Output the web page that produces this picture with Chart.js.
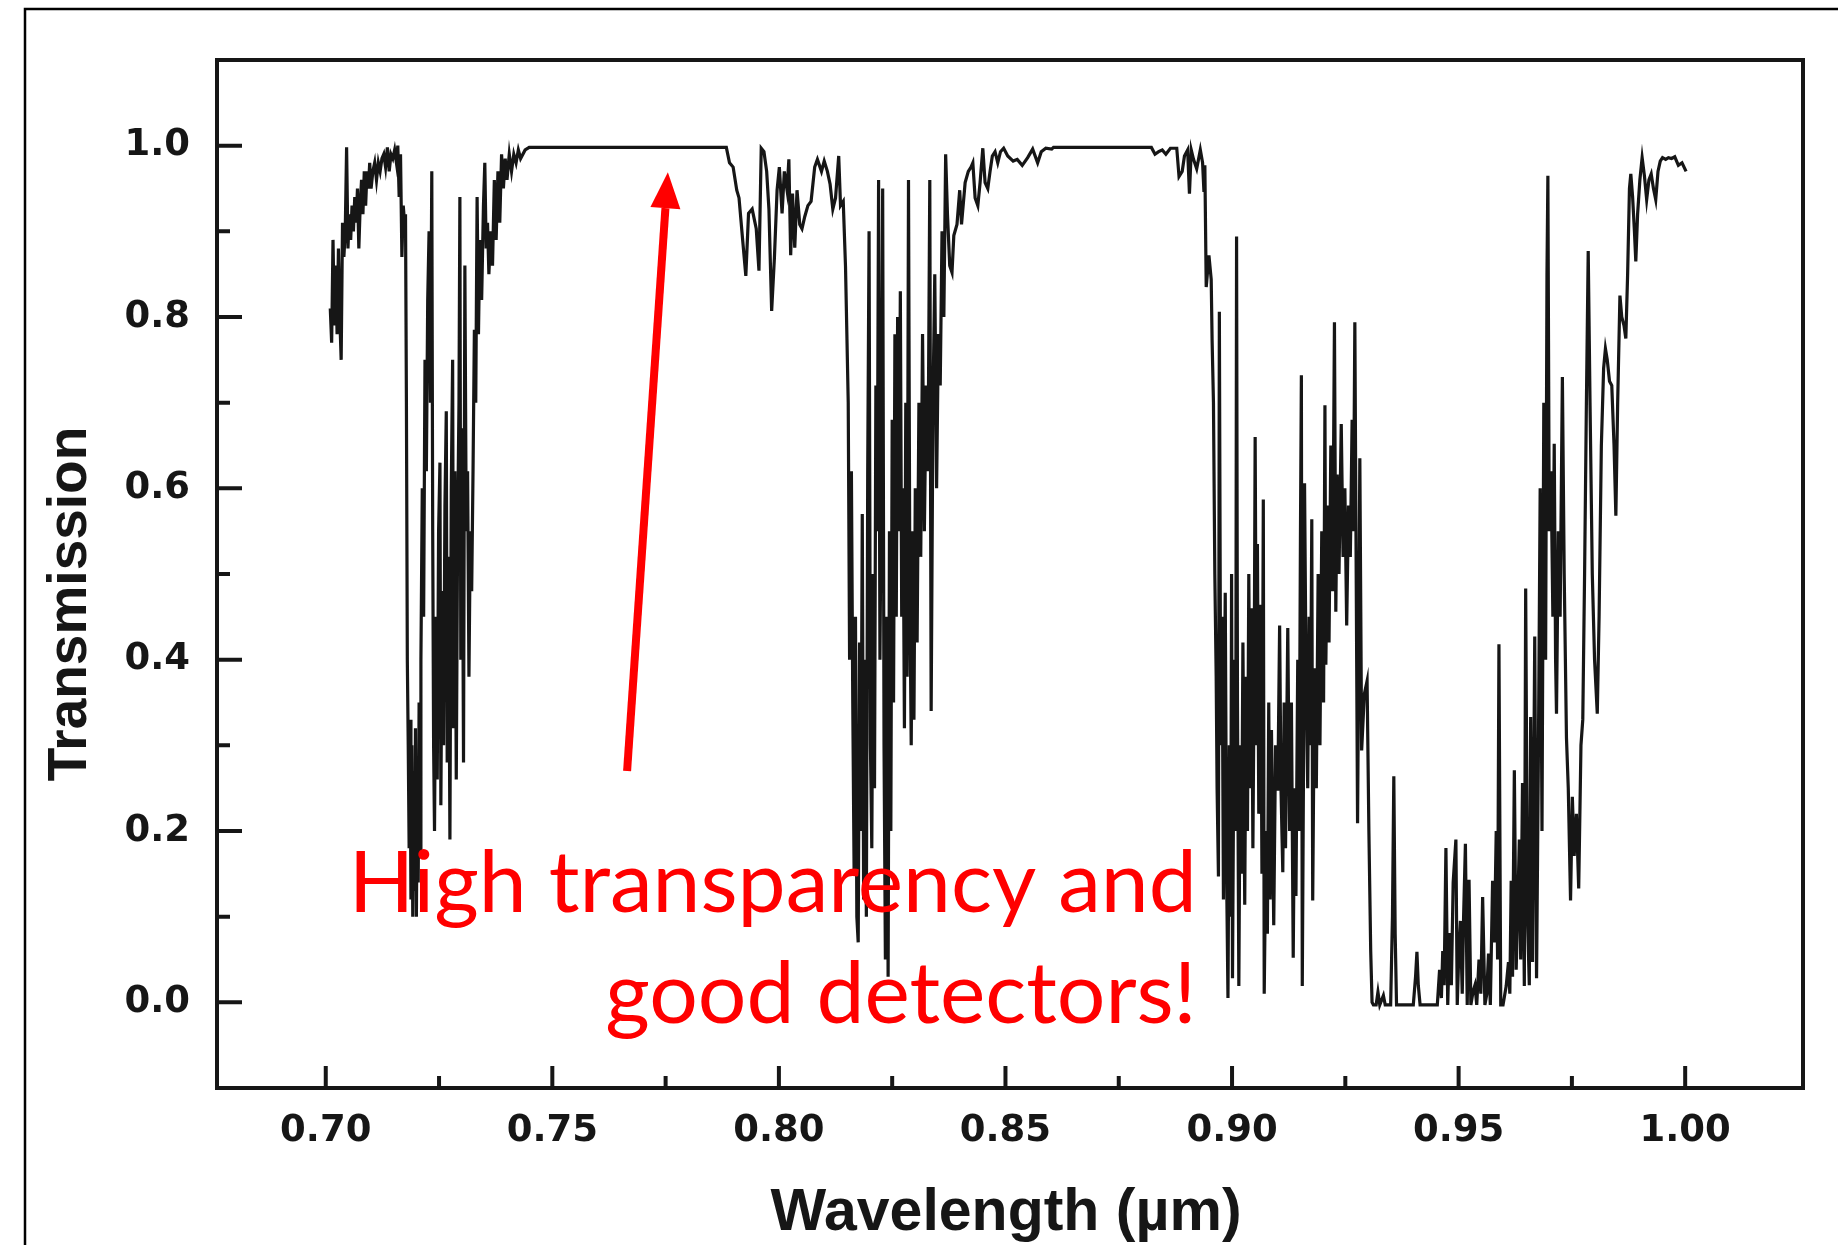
<!DOCTYPE html>
<html>
<head>
<meta charset="utf-8">
<title>Transmission vs wavelength</title>
<script src="https://cdn.jsdelivr.net/npm/chart.js@4.4.0/dist/chart.umd.min.js"></script>
<style>
  html, body { margin: 0; padding: 0; background: #fff; }
  canvas { display: block; }
</style>
</head>
<body>
<canvas id="chart" width="1838" height="1245"></canvas>
<script>
// axis ticks and labels
const xMajorTicks = [0.70, 0.75, 0.80, 0.85, 0.90, 0.95, 1.00];
const xTickLabels = ['0.70', '0.75', '0.80', '0.85', '0.90', '0.95', '1.00'];
const xMinorTicks = [0.725, 0.775, 0.825, 0.875, 0.925, 0.975];
const yMajorTicks = [0.0, 0.2, 0.4, 0.6, 0.8, 1.0];
const yTickLabels = ['0.0', '0.2', '0.4', '0.6', '0.8', '1.0'];
const yMinorTicks = [0.1, 0.3, 0.5, 0.7, 0.9];

// spectrum: [wavelength (um), transmission]
const edge700 = [
  [0.7010, 0.81], [0.7013, 0.77], [0.7016, 0.89], [0.7019, 0.79], [0.7022, 0.86], [0.7025, 0.78],
  [0.7028, 0.88], [0.7031, 0.80], [0.7034, 0.75], [0.7037, 0.91], [0.7040, 0.87], [0.7043, 0.90],
  [0.7046, 0.998], [0.7049, 0.88], [0.7052, 0.92], [0.7055, 0.89], [0.7058, 0.93], [0.7061, 0.90],
  [0.7064, 0.94], [0.7067, 0.91], [0.7070, 0.95], [0.7073, 0.88], [0.7076, 0.93], [0.7079, 0.96],
  [0.7082, 0.92], [0.7085, 0.97], [0.7088, 0.93], [0.7091, 0.97], [0.7094, 0.95], [0.7097, 0.98],
  [0.7100, 0.95], [0.7104, 0.97], [0.7108, 0.98], [0.7112, 0.96], [0.7116, 0.98], [0.7120, 0.97],
  [0.7124, 0.985], [0.7128, 0.99], [0.7132, 0.975], [0.7136, 0.998], [0.7140, 0.97], [0.7144, 0.99],
  [0.7148, 0.985], [0.7152, 0.995], [0.7156, 0.98], [0.7159, 1.0], [0.7162, 0.94], [0.7165, 0.99],
  [0.7168, 0.87], [0.7171, 0.93], [0.7174, 0.91]
];
const band720 = [
  [0.7176, 0.92], [0.7178, 0.70], [0.7180, 0.40], [0.7182, 0.30], [0.7184, 0.18], [0.7186, 0.33],
  [0.7188, 0.12], [0.7190, 0.30], [0.7192, 0.10], [0.7194, 0.27], [0.7196, 0.13], [0.7198, 0.32],
  [0.7200, 0.10], [0.7202, 0.25], [0.7204, 0.14], [0.7206, 0.35], [0.7208, 0.17], [0.7210, 0.40],
  [0.7213, 0.60], [0.7216, 0.45], [0.7219, 0.75], [0.7222, 0.62], [0.7225, 0.82], [0.7228, 0.90],
  [0.7231, 0.70], [0.7234, 0.97], [0.7236, 0.55], [0.7238, 0.30], [0.7240, 0.20], [0.7243, 0.45],
  [0.7246, 0.26], [0.7249, 0.55], [0.7252, 0.63], [0.7254, 0.23], [0.7257, 0.48], [0.7260, 0.30],
  [0.7263, 0.58], [0.7266, 0.69], [0.7268, 0.28], [0.7271, 0.52], [0.7274, 0.19], [0.7277, 0.60],
  [0.7280, 0.75], [0.7282, 0.32], [0.7285, 0.62], [0.7288, 0.26], [0.7291, 0.55], [0.7294, 0.70],
  [0.7296, 0.94], [0.7298, 0.40], [0.7301, 0.67], [0.7304, 0.28], [0.7307, 0.86], [0.7310, 0.55],
  [0.7313, 0.62], [0.7316, 0.38], [0.7319, 0.55], [0.7322, 0.48], [0.7325, 0.62], [0.7328, 0.785],
  [0.7331, 0.70], [0.7334, 0.94], [0.7337, 0.78], [0.7340, 0.89], [0.7344, 0.82], [0.7348, 0.93],
  [0.7351, 0.98], [0.7354, 0.88], [0.7357, 0.91], [0.7360, 0.85], [0.7364, 0.90], [0.7368, 0.86],
  [0.7372, 0.96], [0.7376, 0.89], [0.7380, 0.97], [0.7384, 0.91], [0.7388, 0.99], [0.7392, 0.95],
  [0.7396, 0.985], [0.7400, 0.96], [0.7405, 0.99], [0.7410, 0.97], [0.7415, 0.99], [0.7420, 0.98],
  [0.7425, 0.995], [0.7430, 0.985], [0.7440, 0.995], [0.7449, 0.998], [0.7884, 0.998]
];
const band790 = [
  [0.7891, 0.98], [0.7899, 0.975], [0.7907, 0.948], [0.7912, 0.939], [0.7920, 0.89], [0.7927, 0.848],
  [0.7933, 0.921], [0.7941, 0.926], [0.7950, 0.903], [0.7956, 0.854], [0.7961, 0.997], [0.7967, 0.993],
  [0.7973, 0.97], [0.7978, 0.926], [0.7984, 0.807], [0.7990, 0.868], [0.7996, 0.948], [0.8001, 0.975],
  [0.8007, 0.921], [0.8012, 0.97], [0.8018, 0.948], [0.8022, 0.984], [0.8026, 0.872], [0.8030, 0.944],
  [0.8035, 0.881], [0.8040, 0.948], [0.8046, 0.908], [0.8051, 0.903], [0.8057, 0.917], [0.8064, 0.93],
  [0.8071, 0.935], [0.8079, 0.975], [0.8085, 0.984], [0.8094, 0.97], [0.8100, 0.982], [0.8107, 0.97],
  [0.8113, 0.955], [0.8119, 0.926], [0.8125, 0.939], [0.8132, 0.988], [0.8136, 0.93], [0.8142, 0.935],
  [0.8147, 0.859]
];
const band820 = [
  [0.8150, 0.78], [0.8153, 0.70], [0.8156, 0.40], [0.8160, 0.62], [0.8163, 0.35], [0.8166, 0.15],
  [0.8169, 0.45], [0.8172, 0.10], [0.8175, 0.07], [0.8178, 0.42], [0.8181, 0.20], [0.8184, 0.57],
  [0.8187, 0.12], [0.8190, 0.40], [0.8193, 0.10], [0.8196, 0.62], [0.8199, 0.90], [0.8202, 0.30],
  [0.8205, 0.18], [0.8208, 0.50], [0.8211, 0.25], [0.8214, 0.72], [0.8217, 0.55], [0.8220, 0.96],
  [0.8223, 0.40], [0.8226, 0.62], [0.8229, 0.95], [0.8232, 0.30], [0.8235, 0.05], [0.8238, 0.45],
  [0.8241, 0.03], [0.8244, 0.55], [0.8247, 0.20], [0.8250, 0.68], [0.8253, 0.35], [0.8256, 0.78],
  [0.8259, 0.45], [0.8262, 0.80], [0.8265, 0.55], [0.8268, 0.83], [0.8271, 0.45], [0.8274, 0.60],
  [0.8277, 0.32], [0.8280, 0.70], [0.8283, 0.38], [0.8286, 0.96], [0.8289, 0.48], [0.8292, 0.30],
  [0.8295, 0.55], [0.8298, 0.33], [0.8301, 0.60], [0.8305, 0.42], [0.8309, 0.70], [0.8313, 0.52],
  [0.8317, 0.78], [0.8321, 0.55], [0.8325, 0.72], [0.8329, 0.62], [0.8333, 0.96], [0.8336, 0.34],
  [0.8340, 0.70], [0.8344, 0.85], [0.8348, 0.60], [0.8352, 0.78], [0.8356, 0.72], [0.8360, 0.90],
  [0.8364, 0.80], [0.8368, 0.99]
];
const wing840 = [
  [0.8372, 0.92], [0.8377, 0.86], [0.8382, 0.852], [0.8386, 0.895], [0.8393, 0.908], [0.8399, 0.948],
  [0.8403, 0.908], [0.8411, 0.957], [0.8418, 0.97], [0.8424, 0.975], [0.8428, 0.98], [0.8433, 0.939],
  [0.8439, 0.93], [0.8444, 0.957], [0.8450, 0.997], [0.8455, 0.957], [0.8461, 0.95], [0.8466, 0.97],
  [0.8471, 0.988], [0.8477, 0.993], [0.8483, 0.98], [0.8489, 0.993], [0.8496, 0.997], [0.8505, 0.988],
  [0.8517, 0.982], [0.8526, 0.984], [0.8537, 0.977], [0.8549, 0.986], [0.8560, 0.996], [0.8571, 0.98],
  [0.8579, 0.993], [0.8589, 0.997], [0.8602, 0.996], [0.8606, 0.998], [0.8822, 0.998]
];
const band895 = [
  [0.8830, 0.99], [0.8838, 0.993], [0.8846, 0.995], [0.8854, 0.99], [0.8864, 0.997], [0.8878, 0.997],
  [0.8883, 0.964], [0.8890, 0.97], [0.8895, 0.988], [0.8902, 0.995], [0.8906, 0.944], [0.8910, 0.995],
  [0.8915, 0.984], [0.8922, 0.973], [0.8930, 0.995], [0.8935, 0.98], [0.8938, 0.946], [0.8940, 0.977],
  [0.8943, 0.835], [0.8949, 0.872], [0.8954, 0.844], [0.8956, 0.773], [0.8959, 0.70], [0.8962, 0.50]
];
const band910 = [
  [0.8965, 0.38], [0.8967, 0.25], [0.8970, 0.147], [0.8972, 0.806], [0.8975, 0.30], [0.8978, 0.45],
  [0.8981, 0.12], [0.8983, 0.35], [0.8985, 0.478], [0.8988, 0.15], [0.8991, 0.005], [0.8994, 0.30],
  [0.8997, 0.10], [0.8999, 0.50], [0.9001, 0.028], [0.9005, 0.40], [0.9008, 0.20], [0.9010, 0.894],
  [0.9012, 0.35], [0.9015, 0.019], [0.9018, 0.30], [0.9021, 0.15], [0.9024, 0.42], [0.9028, 0.114],
  [0.9031, 0.38], [0.9034, 0.20], [0.9037, 0.50], [0.9040, 0.25], [0.9043, 0.46], [0.9046, 0.18],
  [0.9049, 0.40], [0.9051, 0.66], [0.9054, 0.30], [0.9056, 0.535], [0.9059, 0.22], [0.9061, 0.40],
  [0.9063, 0.464], [0.9066, 0.15], [0.9069, 0.587], [0.9071, 0.01], [0.9075, 0.20], [0.9078, 0.08],
  [0.9081, 0.35], [0.9084, 0.12], [0.9087, 0.318], [0.9092, 0.09], [0.9096, 0.30], [0.9101, 0.247],
  [0.9105, 0.44], [0.9108, 0.25], [0.9112, 0.152], [0.9115, 0.35], [0.9118, 0.18], [0.9123, 0.437],
  [0.9127, 0.20], [0.9131, 0.35], [0.9135, 0.052], [0.9138, 0.25], [0.9141, 0.124], [0.9145, 0.40],
  [0.9148, 0.20], [0.9151, 0.55], [0.9153, 0.732], [0.9155, 0.019], [0.9158, 0.30], [0.9160, 0.606],
  [0.9163, 0.404], [0.9167, 0.25], [0.9170, 0.45], [0.9173, 0.30], [0.9176, 0.564], [0.9178, 0.119],
  [0.9182, 0.39], [0.9186, 0.25], [0.9190, 0.50], [0.9194, 0.30], [0.9198, 0.55], [0.9202, 0.35],
  [0.9205, 0.697], [0.9207, 0.394], [0.9211, 0.58], [0.9214, 0.42], [0.9218, 0.65], [0.9222, 0.48],
  [0.9226, 0.794], [0.9229, 0.456], [0.9232, 0.616], [0.9236, 0.50], [0.9241, 0.675], [0.9245, 0.52],
  [0.9249, 0.60], [0.9253, 0.44], [0.9257, 0.58], [0.9261, 0.52], [0.9265, 0.68], [0.9268, 0.55],
  [0.9271, 0.794], [0.9274, 0.50], [0.9277, 0.209], [0.9280, 0.45], [0.9282, 0.635], [0.9286, 0.294],
  [0.9292, 0.36], [0.9298, 0.375], [0.9302, 0.20], [0.9306, 0.06], [0.9309, 0.0]
];
const floor935 = [
  [0.9312, -0.003], [0.9318, -0.003], [0.9322, 0.012], [0.9326, -0.003], [0.9334, 0.008], [0.9338, -0.003],
  [0.9350, -0.003], [0.9354, 0.10], [0.9357, 0.264], [0.9360, 0.08], [0.9363, -0.003], [0.9400, -0.003],
  [0.9405, 0.03], [0.9408, 0.059], [0.9411, 0.02], [0.9415, -0.003], [0.9453, -0.003], [0.9458, 0.038],
  [0.9462, 0.005], [0.9465, 0.06], [0.9468, 0.02], [0.9472, 0.18], [0.9476, -0.003], [0.9480, 0.081],
  [0.9484, 0.02], [0.9488, 0.14], [0.9494, 0.19], [0.9497, -0.003], [0.9500, 0.05], [0.9504, 0.095],
  [0.9508, 0.01], [0.9511, 0.10], [0.9515, 0.185], [0.9519, -0.003], [0.9523, 0.143], [0.9527, -0.003],
  [0.9532, 0.013], [0.9536, 0.02], [0.9540, -0.003], [0.9545, 0.05], [0.9549, 0.01], [0.9553, 0.123],
  [0.9558, -0.003], [0.9562, 0.009], [0.9566, 0.057], [0.9570, -0.003], [0.9575, 0.142], [0.9579, 0.07],
  [0.9583, 0.20], [0.9586, 0.05], [0.9589, 0.418], [0.9593, -0.003], [0.9598, -0.003], [0.9605, 0.019],
  [0.9610, 0.047], [0.9613, 0.01], [0.9616, 0.142], [0.9619, 0.03], [0.9623, 0.271], [0.9627, 0.038],
  [0.9631, 0.12], [0.9634, 0.19], [0.9637, 0.05], [0.9641, 0.256], [0.9645, 0.019], [0.9648, 0.483],
  [0.9652, 0.10], [0.9656, 0.02], [0.9659, 0.333], [0.9663, 0.047], [0.9668, 0.427], [0.9672, 0.028],
  [0.9676, 0.285]
];
const band970 = [
  [0.9680, 0.60], [0.9684, 0.20], [0.9688, 0.70], [0.9692, 0.40], [0.9695, 0.85], [0.9697, 0.965],
  [0.9700, 0.55], [0.9704, 0.62], [0.9708, 0.45], [0.9711, 0.652], [0.9714, 0.40], [0.9716, 0.337],
  [0.9720, 0.55], [0.9724, 0.45], [0.9729, 0.73], [0.9733, 0.50], [0.9738, 0.309], [0.9742, 0.25],
  [0.9747, 0.119], [0.9751, 0.24], [0.9755, 0.171], [0.9760, 0.22], [0.9765, 0.133], [0.9770, 0.30],
  [0.9774, 0.33], [0.9778, 0.50], [0.9782, 0.70], [0.9786, 0.877], [0.9790, 0.70], [0.9795, 0.50],
  [0.9800, 0.40], [0.9806, 0.337], [0.9810, 0.45], [0.9815, 0.65], [0.9820, 0.74], [0.9824, 0.763],
  [0.9828, 0.75], [0.9833, 0.725], [0.9838, 0.72], [0.9843, 0.65], [0.9847, 0.568], [0.9851, 0.70],
  [0.9856, 0.825], [0.9860, 0.80], [0.9865, 0.79], [0.9869, 0.775], [0.9873, 0.85], [0.9877, 0.95],
  [0.9880, 0.967], [0.9884, 0.94], [0.9888, 0.90], [0.9891, 0.865], [0.9895, 0.92], [0.9900, 0.96],
  [0.9905, 0.986], [0.9910, 0.965], [0.9915, 0.937], [0.9920, 0.96], [0.9925, 0.967], [0.9930, 0.95],
  [0.9935, 0.937], [0.9940, 0.97], [0.9945, 0.982], [0.9950, 0.986], [0.9957, 0.984], [0.9963, 0.986],
  [0.9970, 0.985], [0.9977, 0.987], [0.9985, 0.977], [0.9993, 0.98], [1.0002, 0.97]
];

// red note, placed in data units
const noteLines = ['High transparency and', 'good detectors!'];
const noteLeft = 0.7051;
const noteRight = 0.8922;
const noteBaselines = [0.1055, -0.024];
const arrowTail = [0.7665, 0.270];
const arrowTip = [0.7755, 0.969];

const INK = '#161616';
const RED = '#ff0000';
const TITLE_FONT = '"Liberation Sans", Arial, Helvetica, sans-serif';
const TICK_FONT = '"DejaVu Sans", Verdana, sans-serif';

const spectrum = [edge700, band720, band790, band820, wing840, band895, band910, floor935, band970]
  .flat()
  .map(([x, y]) => ({ x, y }));

function tickLabel(majors, labels) {
  return (value) => {
    const i = majors.findIndex(t => Math.abs(t - value) < 1e-6);
    return i >= 0 ? labels[i] : '';
  };
}

function setTicks(majors, minors) {
  return (scale) => {
    scale.ticks = majors.concat(minors).sort((a, b) => a - b).map(v => ({ value: v }));
  };
}

const decor = {
  id: 'decor',
  beforeDraw(chart) {
    const { ctx, width, height } = chart;
    ctx.save();
    ctx.fillStyle = '#fff';
    ctx.fillRect(0, 0, width, height);
    // frame of the slide picture
    ctx.strokeStyle = '#000';
    ctx.lineWidth = 2.5;
    ctx.beginPath();
    ctx.moveTo(25, height);
    ctx.lineTo(25, 9);
    ctx.lineTo(width, 9);
    ctx.stroke();
    ctx.restore();
  },
  afterDatasetsDraw(chart) {
    const { ctx, chartArea: a, scales: { x, y } } = chart;
    ctx.save();
    ctx.strokeStyle = INK;
    ctx.lineWidth = 4;
    ctx.strokeRect(a.left, a.top, a.right - a.left, a.bottom - a.top);

    // inward ticks
    ctx.beginPath();
    xMajorTicks.forEach(v => { const px = x.getPixelForValue(v); ctx.moveTo(px, a.bottom); ctx.lineTo(px, a.bottom - 22); });
    xMinorTicks.forEach(v => { const px = x.getPixelForValue(v); ctx.moveTo(px, a.bottom); ctx.lineTo(px, a.bottom - 12); });
    yMajorTicks.forEach(v => { const py = y.getPixelForValue(v); ctx.moveTo(a.left, py); ctx.lineTo(a.left + 25, py); });
    yMinorTicks.forEach(v => { const py = y.getPixelForValue(v); ctx.moveTo(a.left, py); ctx.lineTo(a.left + 13, py); });
    ctx.stroke();

    // axis titles
    ctx.fillStyle = INK;
    ctx.font = 'bold 55px ' + TITLE_FONT;
    ctx.textAlign = 'center';
    ctx.textBaseline = 'alphabetic';
    ctx.save();
    ctx.translate(86, 604);
    ctx.rotate(-Math.PI / 2);
    ctx.fillText('Transmission', 0, 0);
    ctx.restore();
    ctx.font = 'bold 59px ' + TITLE_FONT;
    ctx.fillText('Wavelength (\u00b5m)', 1006, 1230);

    // red arrow
    const tx = x.getPixelForValue(arrowTail[0]), ty = y.getPixelForValue(arrowTail[1]);
    const hx = x.getPixelForValue(arrowTip[0]), hy = y.getPixelForValue(arrowTip[1]);
    const ang = Math.atan2(hy - ty, hx - tx);
    const headLen = 36, headHalf = 15;
    const bx = hx - headLen * Math.cos(ang), by = hy - headLen * Math.sin(ang);
    ctx.strokeStyle = RED;
    ctx.fillStyle = RED;
    ctx.lineWidth = 8;
    ctx.lineCap = 'butt';
    ctx.beginPath();
    ctx.moveTo(tx, ty);
    ctx.lineTo(bx, by);
    ctx.stroke();
    ctx.beginPath();
    ctx.moveTo(hx, hy);
    ctx.lineTo(bx + headHalf * Math.sin(ang), by - headHalf * Math.cos(ang));
    ctx.lineTo(bx - headHalf * Math.sin(ang), by + headHalf * Math.cos(ang));
    ctx.closePath();
    ctx.fill();

    // red note, sized to span its box
    const left = x.getPixelForValue(noteLeft), right = x.getPixelForValue(noteRight);
    ctx.font = '100px Lato, "Noto Sans", sans-serif';
    const size = 100 * (right - left) / ctx.measureText(noteLines[0]).width;
    ctx.font = size.toFixed(1) + 'px Lato, "Noto Sans", sans-serif';
    ctx.textAlign = 'right';
    ctx.textBaseline = 'alphabetic';
    noteLines.forEach((line, i) => ctx.fillText(line, right, y.getPixelForValue(noteBaselines[i])));
    ctx.restore();
  }
};

new Chart(document.getElementById('chart'), {
  type: 'scatter',
  data: {
    datasets: [{
      label: 'Transmission',
      data: spectrum,
      showLine: true,
      borderColor: INK,
      backgroundColor: INK,
      borderWidth: 3.2,
      pointRadius: 0,
      tension: 0
    }]
  },
  options: {
    responsive: false,
    animation: false,
    devicePixelRatio: 1,
    events: [],
    layout: { padding: { left: 0, top: 60, right: 35, bottom: 0 } },
    plugins: { legend: { display: false }, tooltip: { enabled: false } },
    scales: {
      x: {
        type: 'linear',
        min: 0.676,
        max: 1.026,
        afterBuildTicks: setTicks(xMajorTicks, xMinorTicks),
        afterFit: (scale) => { scale.height = 157; },
        grid: { display: false, drawTicks: false },
        border: { display: false },
        ticks: {
          autoSkip: false,
          maxRotation: 0,
          padding: 21,
          color: INK,
          font: { family: TICK_FONT, size: 37, weight: 'bold' },
          callback: tickLabel(xMajorTicks, xTickLabels)
        }
      },
      y: {
        type: 'linear',
        min: -0.1,
        max: 1.1,
        afterBuildTicks: setTicks(yMajorTicks, yMinorTicks),
        afterFit: (scale) => { scale.width = 217; },
        grid: { display: false, drawTicks: false },
        border: { display: false },
        ticks: {
          autoSkip: false,
          padding: 27,
          color: INK,
          font: { family: TICK_FONT, size: 37, weight: 'bold' },
          callback: tickLabel(yMajorTicks, yTickLabels)
        }
      }
    }
  },
  plugins: [decor]
});
</script>
</body>
</html>
